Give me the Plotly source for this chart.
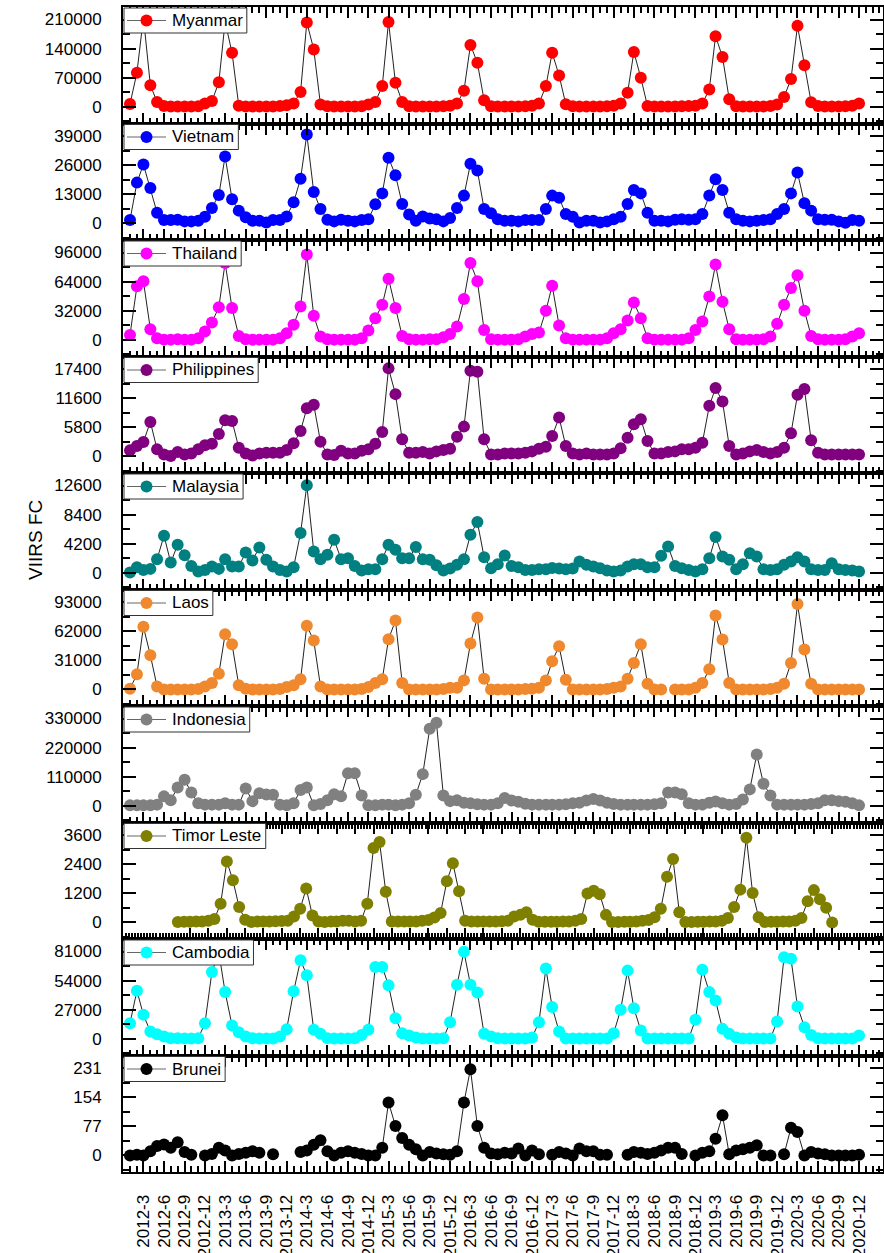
import plotly.graph_objects as go
from plotly.subplots import make_subplots

# ---------------- data ----------------
months = [f"{y}-{m}" for y in range(2012, 2021) for m in range(1, 13)]
tick_labels = ["2012-3", "2012-6", "2012-9", "2012-12", "2013-3", "2013-6", "2013-9", "2013-12",
               "2014-3", "2014-6", "2014-9", "2014-12", "2015-3", "2015-6", "2015-9", "2015-12",
               "2016-3", "2016-6", "2016-9", "2016-12", "2017-3", "2017-6", "2017-9", "2017-12",
               "2018-3", "2018-6", "2018-9", "2018-12", "2019-3", "2019-6", "2019-9", "2019-12",
               "2020-3", "2020-6", "2020-9", "2020-12"]

countries = ["Myanmar", "Vietnam", "Thailand", "Philippines", "Malaysia",
             "Laos", "Indonesia", "Timor Leste", "Cambodia", "Brunei"]
colors = ["#FF0000", "#0000FF", "#FF00FF", "#800080", "#008080",
          "#F0882E", "#808080", "#808000", "#00FFFF", "#000000"]
tick_steps = [70000, 13000, 32000, 5800, 4200, 31000, 110000, 1200, 27000, 77]

myanmar = [7000, 82000, 215000, 52000, 12000, 2000, 1000, 1000, 1000, 1000, 1500, 8000,
           14000, 59000, 205000, 130000, 3000, 1000, 1000, 1000, 1000, 1000, 2000, 4000,
           8000, 36000, 203000, 138000, 5600, 1500, 1000, 1000, 1000, 1000, 1500, 6000,
           12000, 50000, 204000, 58000, 12000, 1500, 1000, 1000, 1000, 1000, 1500, 3000,
           8000, 38600, 149000, 106000, 16000, 1500, 1000, 1000, 1000, 1000, 1500, 2500,
           8000, 50000, 130000, 75600, 6400, 1500, 1000, 1000, 1000, 1000, 1500, 2500,
           8000, 34000, 132000, 70000, 2000, 1000, 1000, 1000, 1000, 1500, 2000, 3000,
           8000, 42000, 170000, 120000, 18500, 1500, 1000, 1000, 1000, 1000, 2000, 5600,
           24000, 67000, 195000, 100000, 11000, 2000, 1000, 1000, 1000, 1500, 3000, 8000]
vietnam = [1500, 18200, 26300, 15800, 4800, 1500, 1500, 1600, 900, 900, 1200, 3000,
           6900, 12700, 29900, 10800, 5700, 2700, 1200, 1200, 450, 1500, 1500, 3100,
           9400, 19900, 39700, 14000, 6400, 1600, 900, 1600, 1200, 900, 1500, 1900,
           8500, 13400, 29300, 21500, 8700, 4000, 1200, 3100, 2200, 1800, 900, 2400,
           6900, 12400, 26600, 23600, 6400, 4500, 1900, 1200, 1200, 900, 1500, 1500,
           1500, 6400, 12400, 11400, 4200, 3000, 450, 1200, 1200, 450, 900, 1900,
           3000, 8700, 14900, 13400, 4800, 1200, 1200, 900, 1600, 1900, 1600, 1900,
           4200, 12500, 19700, 14900, 4800, 1900, 1200, 900, 1200, 1500, 1900, 4200,
           6400, 13400, 22700, 9000, 5700, 1900, 1600, 1600, 900, 300, 1500, 1200]
thailand = [5500, 58900, 64400, 11800, 1800, 300, 300, 700, 300, 300, 1800, 9200,
            19100, 36000, 84600, 35000, 4400, 700, 300, 300, 300, 300, 1800, 7400,
            16600, 36800, 93800, 26500, 3700, 700, 300, 300, 300, 300, 1800, 10300,
            23900, 38600, 67300, 35000, 4400, 700, 300, 300, 700, 700, 2900, 6600,
            14700, 44900, 84600, 64400, 11000, 700, 300, 300, 300, 700, 3700, 6600,
            8100, 32000, 59600, 15800, 1800, 300, 300, 300, 300, 300, 1800, 7400,
            11800, 21300, 41200, 23900, 1800, 300, 300, 300, 300, 300, 1800, 11000,
            20200, 47800, 82800, 41900, 11800, 700, 300, 300, 300, 700, 3700, 17700,
            38600, 57000, 71000, 32000, 4400, 700, 300, 300, 300, 700, 3700, 7400]
philippines = [1200, 2070, 2870, 6870, 1400, 400, 100, 870, 400, 600, 1400, 2200,
               2530, 4470, 7200, 7070, 1730, 600, 200, 600, 730, 730, 730, 1270,
               2600, 5070, 9600, 10270, 2930, 400, 300, 1130, 600, 600, 1130, 1400,
               2530, 4870, 17530, 12400, 3400, 730, 730, 870, 600, 1000, 1270, 1530,
               3930, 5930, 17070, 16870, 3400, 400, 400, 600, 600, 600, 730, 1000,
               1530, 1930, 4070, 7730, 2070, 600, 400, 600, 400, 400, 400, 600,
               1600, 3730, 6400, 7400, 3070, 600, 600, 870, 1000, 1400, 1400, 1730,
               2730, 10070, 13600, 10930, 2070, 400, 600, 1000, 1270, 870, 600, 870,
               1730, 4600, 12270, 13400, 3200, 730, 400, 400, 400, 400, 400, 400]
malaysia = [50, 820, 430, 580, 1980, 5360, 1500, 4060, 2560, 1010, 190, 430,
            920, 580, 1980, 920, 920, 2940, 1790, 3670, 1880, 920, 430, 190,
            820, 5750, 12650, 3090, 1980, 2610, 4780, 1980, 2120, 1010, 340, 530,
            530, 1980, 4060, 3330, 2120, 2120, 3720, 1980, 1880, 1100, 340, 630,
            1160, 1980, 5500, 7340, 2270, 680, 1260, 2510, 1010, 820, 430, 430,
            530, 530, 720, 630, 530, 630, 1640, 1160, 920, 680, 340, 190,
            340, 920, 1260, 1260, 820, 820, 2460, 3810, 1010, 680, 430, 190,
            530, 2120, 5170, 2360, 1880, 530, 1260, 2850, 2360, 530, 430, 530,
            1160, 1640, 2270, 1640, 530, 430, 430, 1400, 530, 430, 340, 190]
laos = [700, 16000, 66600, 36300, 3200, 0, 0, 0, 0, 0, 500, 3200,
        6800, 16700, 58800, 48100, 4300, 700, 0, 0, 0, 0, 500, 2500,
        4300, 10700, 67700, 52000, 3200, 0, 0, 0, 0, 0, 500, 2500,
        6800, 10700, 53400, 73400, 6800, 0, 0, 0, 0, 0, 500, 1800,
        1800, 9600, 48800, 76600, 11400, 0, 0, 0, 0, 0, 500, 700,
        1800, 9600, 29900, 46000, 10300, 0, 0, 0, 0, 0, 500, 1800,
        3200, 11400, 28100, 48100, 6100, 0, 0, None, 0, 0, 0, 1800,
        6800, 21400, 78700, 53100, 6800, 0, 0, 0, 0, 0, 500, 1800,
        6100, 28100, 90900, 42400, 6100, 0, 0, 0, 0, 0, 0, 0]
indonesia = [2000, 2000, 2000, 2000, 4800, 36000, 21600, 69600, 98400, 50400, 9600, 4800,
             4800, 4800, 9600, 4800, 4800, 66000, 18000, 48000, 43200, 42000, 4800, 2000,
             9600, 60000, 69600, 2000, 7200, 21600, 44400, 36000, 123600, 123600, 39600, 2000,
             2000, 4800, 4800, 2000, 4800, 9600, 42000, 120000, 291600, 314400, 39600, 18000,
             21600, 12000, 9600, 6000, 4800, 4800, 9600, 30000, 20400, 15600, 8400, 4800,
             4800, 4800, 4800, 4800, 6000, 9600, 12000, 20400, 26400, 20400, 12000, 7200,
             4800, 4800, 4800, 4800, 4800, 6000, 9600, 50400, 50400, 44400, 9600, 4800,
             4800, 12000, 16800, 9600, 4800, 7200, 24000, 62400, 194400, 84000, 39600, 4800,
             4800, 4800, 4800, 4800, 7200, 9600, 21600, 21600, 18000, 15600, 9600, 2000]
timor_leste = [20, 30, 30, 40, 40, 70, 140, 770, 2510, 1740, 630, 110,
               20, 40, 40, 40, 50, 60, 70, 240, 560, 1400, 280, 40,
               20, 40, 40, 70, 70, 40, 70, 770, 3070, 3310, 1260, 40,
               40, 40, 40, 40, 70, 100, 200, 390, 1700, 2440, 1280, 70,
               40, 40, 40, 40, 40, 50, 70, 240, 310, 420, 110, 30,
               30, 30, 30, 40, 40, 70, 140, 1190, 1300, 1160, 310, 20,
               20, 30, 30, 40, 70, 100, 210, 560, 1880, 2610, 420, 20,
               20, 30, 30, 40, 40, 70, 180, 630, 1350, 3490, 1210, 210,
               20, 30, 30, 40, 40, 70, 180, 870, 1330, 950, 600, 0]
cambodia = [14600, 44700, 22300, 6800, 4300, 2200, 600, 600, 300, 300, 600, 14600,
            62100, 80000, 43400, 12400, 6200, 2200, 600, 300, 300, 300, 2200, 9000,
            44100, 72900, 59000, 8400, 4700, 600, 300, 300, 300, 600, 3700, 8400,
            66700, 66700, 49700, 19200, 5300, 3100, 1200, 300, 300, 300, 600, 15500,
            50300, 80700, 50300, 43100, 4700, 2200, 600, 300, 300, 300, 300, 1200,
            15500, 65200, 29500, 6800, 300, 300, 300, 300, 300, 300, 300, 5300,
            27000, 63300, 28500, 7800, 300, 300, 300, 300, 300, 300, 300, 17700,
            64200, 43400, 35700, 9300, 4700, 1200, 300, 300, 300, 300, 300, 16100,
            75700, 74200, 30100, 10900, 3700, 600, 300, 300, 300, 300, 300, 3100]
brunei = [0, 2, 0, 11, 25, 29, 20, 35, 9, 2, None, 0,
          4, 20, 13, 0, 4, 7, 11, 7, None, 3, None, None,
          None, 9, 13, 28, 40, 11, 0, 7, 11, 7, 4, 0,
          0, 20, 140, 78, 46, 28, 16, 0, 9, 5, 3, 2,
          11, 140, 228, 78, 20, 5, 3, 7, 5, 18, 0, 13,
          3, None, 2, 9, 5, 0, 18, 11, 11, 2, 2, None,
          None, 2, 9, 7, 4, 7, 13, 20, 20, 4, None, 0,
          7, 11, 44, 106, 3, 13, 16, 20, 27, 0, 0, None,
          3, 73, 62, 0, 9, 5, 3, 0, 0, 0, 0, 2]

series = [myanmar, vietnam, thailand, philippines, malaysia,
          laos, indonesia, timor_leste, cambodia, brunei]

# ---------------- figure ----------------
def to_date(label):
    y, m = label.split("-")
    return f"{y}-{int(m):02d}-01"

dates = [to_date(m) for m in months]
tick_dates = [to_date(t) for t in tick_labels]

FONT = "Liberation Sans, Arial, sans-serif"
FS = 17
MAIN_RANGE = ["2011-11-30 19:00", "2021-03-18"]
TIMOR_RANGE = ["2011-04-03", "2021-08-11"]
HALF_MONTH_MS = 1314900000

W, H = 884, 1253
ML, MR, MT, MB = 123, 1, 7, 81
PW, PH = W - ML - MR, H - MT - MB

# Arial / Liberation Sans advance widths (per 1000 em) for sizing the legend boxes
ARIAL_W = {" ": 278, "B": 667, "C": 722, "I": 278, "L": 556, "M": 833, "P": 667,
           "T": 611, "V": 667, "a": 556, "b": 556, "d": 556, "e": 556, "h": 556,
           "i": 222, "l": 222, "m": 833, "n": 556, "o": 556, "p": 556, "r": 333,
           "s": 500, "t": 278, "u": 556, "y": 500}

def text_px(s, size=FS):
    return sum(ARIAL_W.get(c, 556) for c in s) * size / 1000.0

n = len(countries)
fig = make_subplots(rows=n, cols=1, vertical_spacing=0)

shapes = []
for k, (name, color, step, vals) in enumerate(zip(countries, colors, tick_steps, series)):
    row = k + 1
    fig.add_trace(go.Scatter(
        x=dates, y=vals, name=name, mode="lines+markers",
        line=dict(color="#222222", width=1),
        marker=dict(color=color, size=12),
        connectgaps=False, showlegend=False,
    ), row=row, col=1)

    fig.update_yaxes(
        row=row, col=1,
        range=[-0.57 * step, 3.43 * step],
        tickvals=[0, step, 2 * step, 3 * step],
        ticktext=[str(v) for v in [0, step, 2 * step, 3 * step]],
        ticks="inside", ticklen=13, tickwidth=2, tickcolor="black",
        minor=dict(ticks="inside", ticklen=7, tickwidth=2, tickcolor="black",
                   tick0=step / 2, dtick=step),
        showline=True, linewidth=2, linecolor="black", mirror="allticks",
        showgrid=False, zeroline=False, automargin=False,
        tickfont=dict(family=FONT, size=FS, color="black"),
        ticklabelstandoff=16,
    )
    is_timor = name == "Timor Leste"
    fig.update_xaxes(
        row=row, col=1, type="date",
        range=TIMOR_RANGE if is_timor else MAIN_RANGE,
        tickvals=tick_dates, ticktext=tick_labels,
        ticks="inside", ticklen=11, tickwidth=2, tickcolor="black",
        minor=dict(ticks="inside", ticklen=6, tickwidth=2 if not is_timor else 1.5,
                   tickcolor="black",
                   dtick=HALF_MONTH_MS if is_timor else "M1", tick0="2012-01-01"),
        showline=True, linewidth=2, linecolor="black", mirror="allticks",
        showgrid=False, zeroline=False, automargin=False,
        showticklabels=(row == n), tickangle=-90,
        tickfont=dict(family=FONT, size=FS, color="black"),
        ticklabelstandoff=14,
    )

    # legend box for this panel: white box, grey line, coloured dot, name
    top = fig.layout[f"yaxis{'' if row == 1 else row}"].domain[1]
    px_x = lambda p: p / PW
    px_y = lambda p: top - p / PH
    box_l, box_t, box_h = 1.0, 1.0, 25.0
    text_l = box_l + 48.0
    box_r = text_l + text_px(name) + 4.0
    mid = box_t + box_h / 2.0
    shapes.append(dict(type="rect", xref="paper", yref="paper", layer="above",
                       x0=px_x(box_l), x1=px_x(box_r), y0=px_y(box_t), y1=px_y(box_t + box_h),
                       fillcolor="white", line=dict(color="#333333", width=1)))
    shapes.append(dict(type="line", xref="paper", yref="paper", layer="above",
                       x0=px_x(box_l + 3), x1=px_x(box_l + 42), y0=px_y(mid), y1=px_y(mid),
                       line=dict(color="#666666", width=1)))
    shapes.append(dict(type="circle", xref="paper", yref="paper", layer="above",
                       x0=px_x(box_l + 16.5), x1=px_x(box_l + 28.5),
                       y0=px_y(mid - 6), y1=px_y(mid + 6),
                       fillcolor=color, line=dict(width=0)))
    fig.add_annotation(
        xref="paper", yref="paper", x=px_x(text_l - 1), y=px_y(mid),
        xanchor="left", yanchor="middle", showarrow=False, align="left",
        text=name, font=dict(family=FONT, size=FS, color="black"), borderpad=0,
    )

fig.add_annotation(
    text="VIIRS FC", xref="paper", yref="paper", x=-88 / PW, y=(1172 - 540) / PH,
    textangle=-90, showarrow=False, xanchor="center", yanchor="middle",
    font=dict(family=FONT, size=19, color="black"),
)

fig.update_layout(
    width=W, height=H,
    margin=dict(l=ML, r=MR, t=MT, b=MB, autoexpand=False),
    paper_bgcolor="white", plot_bgcolor="white",
    font=dict(family=FONT),
    showlegend=False,
    shapes=shapes,
)

fig.write_html("out.html", config={"displayModeBar": False},
               post_script="document.body.style.margin='0px';")
